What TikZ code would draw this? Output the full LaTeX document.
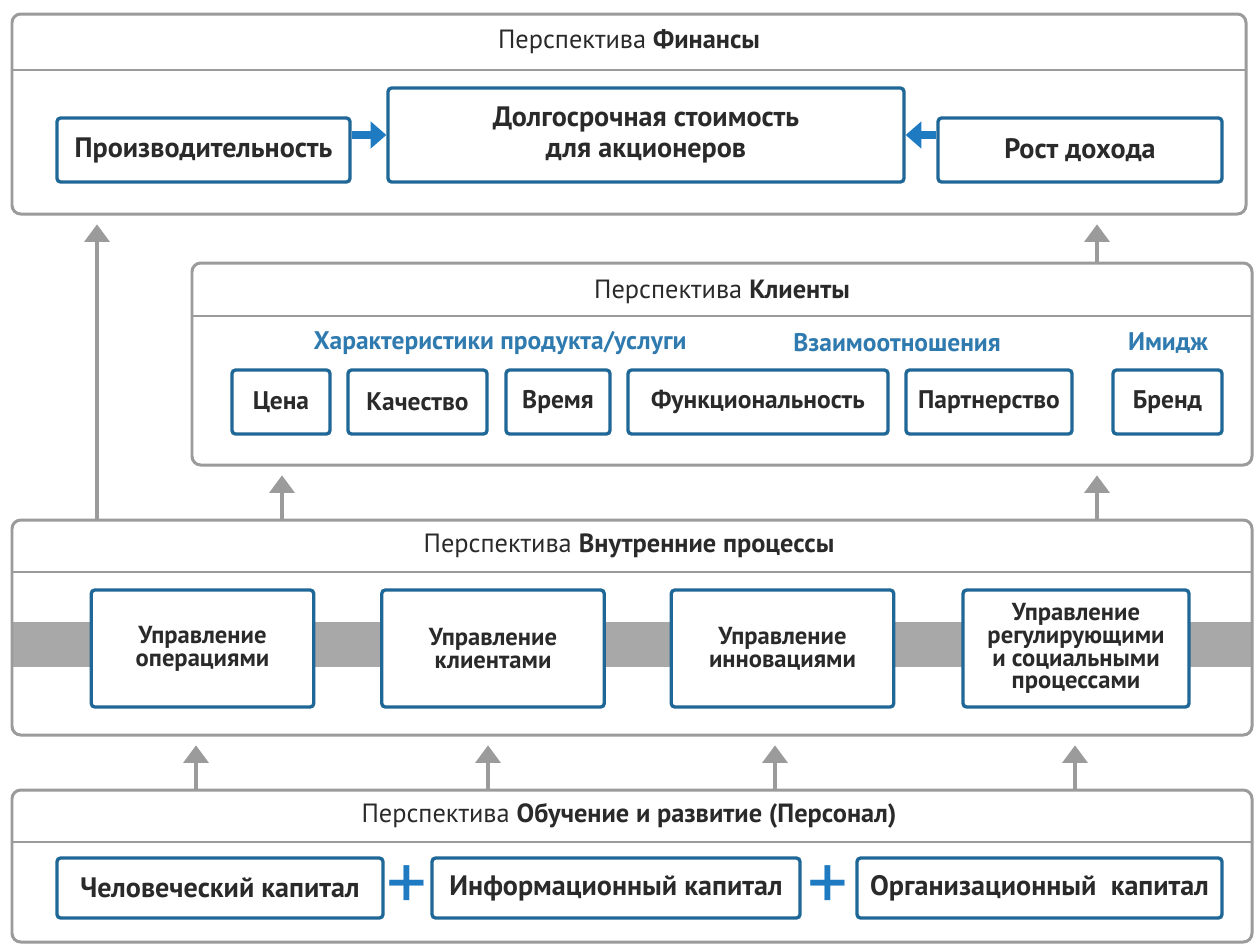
\documentclass[tikz,border=0pt]{standalone}
\usepackage{fontspec}
\setmainfont{PT Sans}
\usetikzlibrary{arrows.meta,fit}

\definecolor{boxblue}{HTML}{1F6796}
\definecolor{arrblue}{HTML}{1E7BC2}
\definecolor{labblue}{HTML}{2F7AAE}
\definecolor{panelgray}{HTML}{9B9B9B}
\definecolor{bandgray}{HTML}{A8A8A8}
\definecolor{txt}{HTML}{2A2A2A}

\tikzset{
  panel/.style={draw=panelgray, line width=1.7pt, rounded corners=5pt, inner sep=0pt},
  sepline/.style={draw=panelgray, line width=1.2pt},
  box/.style={draw=boxblue, line width=1.9pt, fill=white, rounded corners=2pt,
    inner sep=0pt, align=center, text=txt, font=\fontsize{16}{18}\selectfont\bfseries},
  smallbox/.style={box, font=\fontsize{14.5}{16}\selectfont\bfseries},
  procbox/.style={box, minimum width=4.45cm, minimum height=2.34cm,
    font=\fontsize{14}{13}\selectfont\bfseries},
  title/.style={text=txt, font=\fontsize{15}{17}\selectfont},
  cat/.style={text=labblue, font=\fontsize{14.5}{16}\selectfont\bfseries},
  up/.style={draw=panelgray, line width=2.8pt, -{Triangle[width=14pt,length=10pt]}, shorten >=5pt},
  feed/.style={draw=arrblue, line width=4pt, -{Triangle[width=15pt,length=9pt]}},
  plus/.style={text=arrblue, font=\fontsize{46}{46}\selectfont}
}

\begin{document}
\begin{tikzpicture}[x=0.02cm, y=-0.02cm]
	    \useasboundingbox[fill=white] (0,0) rectangle (1257,948);

	    % finance
	    \node[panel, fit={(12,14) (1246,214)}] (fin) {};
	    \draw[sepline] (12,70) -- (1246,70);
	    \node[title] (finT) at (629,42) {Перспектива \textbf{Финансы}};
	    \node[box, minimum width=5.86cm, minimum height=1.28cm] (prod) at (203.5,150) {Производительность};
	    \node[box, minimum width=10.32cm, minimum height=1.88cm] (value) at (646,135) {Долгосрочная стоимость\\для акционеров};
	    \node[box, minimum width=5.68cm, minimum height=1.28cm] (growth) at (1080,150) {Рост дохода};
	    \draw[feed] (prod.east |- 0,135) -- (value.west |- 0,135);
	    \draw[feed] (growth.west |- 0,135) -- (value.east |- 0,135);

	    % clients
	    \node[panel, fit={(192,263) (1252,465)}] (cli) {};
	    \draw[sepline] (192,316) -- (1252,316);
	    \node[title] (cliT) at (722,292) {Перспектива \textbf{Клиенты}};
	    \node[cat] (catA) at (500,343) {Характеристики продукта/услуги};
	    \node[cat] (catB) at (897,343) {Взаимоотношения};
	    \node[cat] (catC) at (1168,343) {Имидж};
	    \node[smallbox, minimum width=1.96cm, minimum height=1.28cm] (price) at (281,402) {Цена};
	    \node[smallbox, minimum width=2.78cm, minimum height=1.28cm] (quality) at (417.5,402) {Качество};
	    \node[smallbox, minimum width=2.08cm, minimum height=1.28cm] (time) at (558,402) {Время};
	    \node[smallbox, minimum width=5.2cm, minimum height=1.28cm] (func) at (758,402) {Функциональность};
	    \node[smallbox, minimum width=3.32cm, minimum height=1.28cm] (partner) at (989,402) {Партнерство};
	    \node[smallbox, minimum width=2.18cm, minimum height=1.28cm] (brand) at (1167.5,402) {Бренд};

	    % internal processes
	    \fill[bandgray] (12,622) rectangle (1252,667);
	    \node[panel, fit={(12,520) (1252,735)}] (intl) {};
	    \draw[sepline] (12,572) -- (1252,572);
	    \node[title] (intlT) at (629,546) {Перспектива \textbf{Внутренние процессы}};
	    \node[procbox] (ops) at (202.5,648.5) {Управление\\операциями};
	    \node[procbox] (crm) at (493,648.5) {Управление\\клиентами};
	    \node[procbox] (innov) at (782.5,648.5) {Управление\\инновациями};
	    \node[procbox, minimum width=4.52cm] (social) at (1076,648.5) {Управление\\регулирующими\\и социальными\\процессами};

	    % learning
	    \node[panel, fit={(12,790) (1252,942)}] (learn) {};
	    \draw[sepline] (12,842) -- (1252,842);
	    \node[title] (learnT) at (629,816) {Перспектива \textbf{Обучение и развитие (Персонал)}};
	    \node[box, minimum width=6.52cm, minimum height=1.2cm] (human) at (220,888) {Человеческий капитал};
	    \node[box, minimum width=7.36cm, minimum height=1.2cm] (info) at (616,888) {Информационный капитал};
	    \node[box, minimum width=7.3cm, minimum height=1.2cm] (org) at (1039.5,888) {Организационный\ \ капитал};
	    \node[plus] (plusA) at (407,888) {+};
	    \node[plus] (plusB) at (828,888) {+};

	    % links between perspectives
	    \draw[up] (intl.north -| 97,0) -- (fin.south -| 97,0);
	    \draw[up] (cli.north -| 1097,0) -- (fin.south -| 1097,0);
	    \draw[up] (intl.north -| 282,0) -- (cli.south -| 282,0);
	    \draw[up] (intl.north -| 1097,0) -- (cli.south -| 1097,0);
	    \foreach \xx in {196,488,775,1075}
	      \draw[up] (learn.north -| \xx,0) -- (intl.south -| \xx,0);

	\end{tikzpicture}
\end{document}
